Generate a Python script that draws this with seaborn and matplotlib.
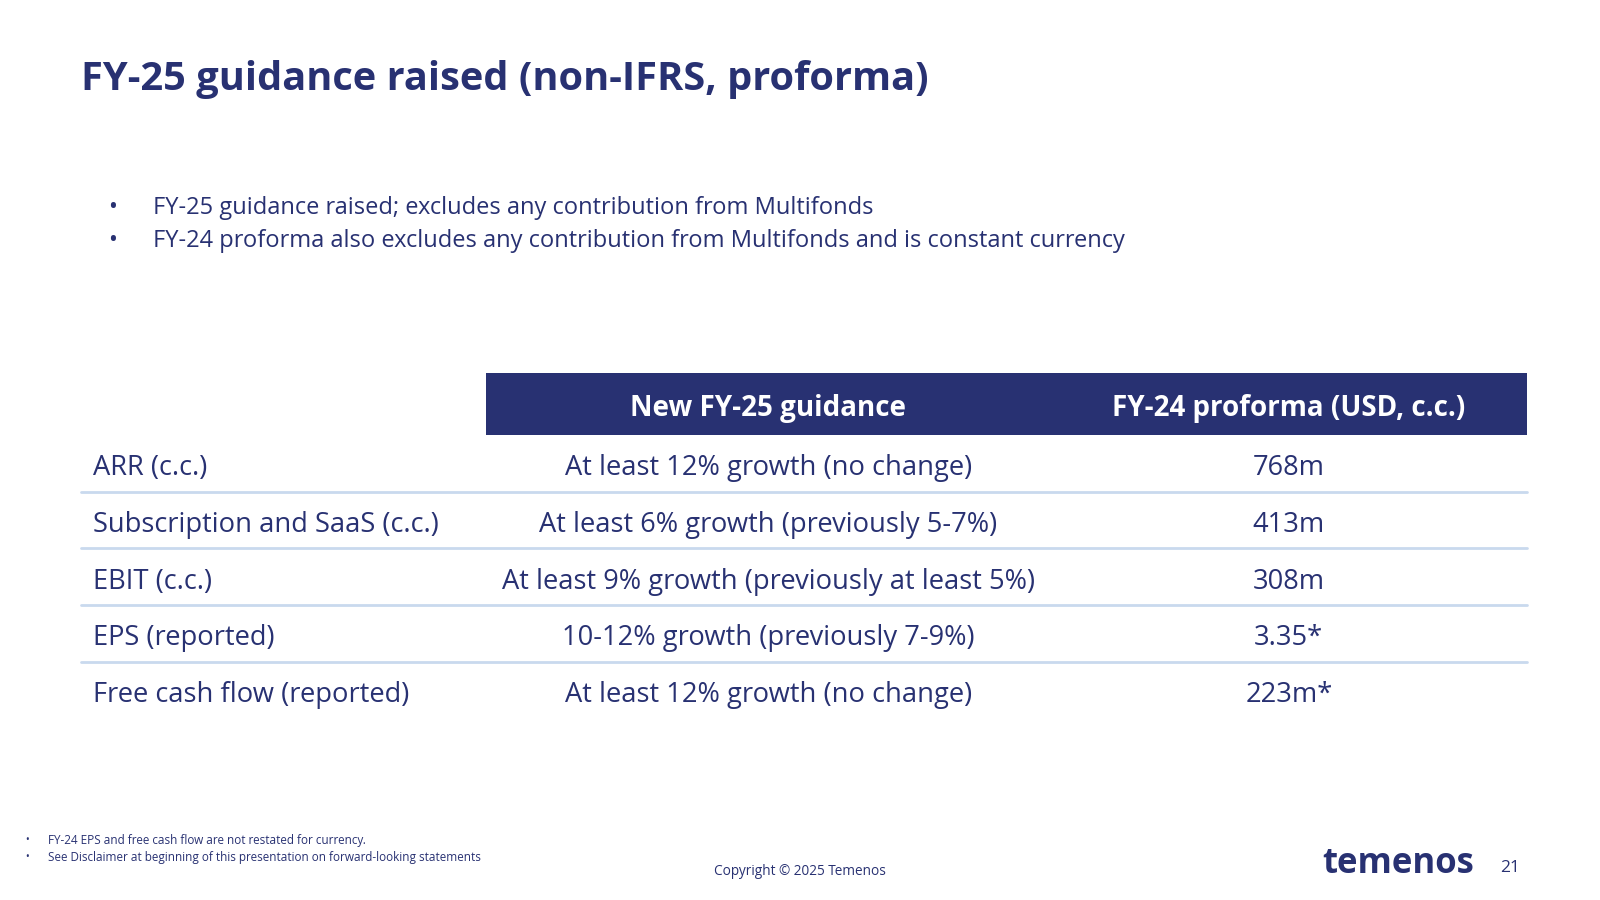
import matplotlib
matplotlib.use("Agg")
import matplotlib.pyplot as plt
import seaborn as sns

sns.set_theme(style="white", font="Open Sans")

title = "FY-25 guidance raised (non-IFRS, proforma)"
bullets = ["FY-25 guidance raised; excludes any contribution from Multifonds",
           "FY-24 proforma also excludes any contribution from Multifonds and is constant currency"]
headers = ["New FY-25 guidance", "FY-24 proforma (USD, c.c.)"]
metrics = ["ARR (c.c.)", "Subscription and SaaS (c.c.)", "EBIT (c.c.)", "EPS (reported)", "Free cash flow (reported)"]
guidance = ["At least 12% growth (no change)", "At least 6% growth (previously 5-7%)",
            "At least 9% growth (previously at least 5%)", "10-12% growth (previously 7-9%)",
            "At least 12% growth (no change)"]
fy24 = ["768m", "413m", "308m", "3.35*", "223m*"]
footnotes = ["FY-24 EPS and free cash flow are not restated for currency.",
             "See Disclaimer at beginning of this presentation on forward-looking statements"]

NAVY = "#283172"
LINE = "#c9d9ee"

fig = plt.figure(figsize=(16, 9), dpi=100)
ax = fig.add_axes([0, 0, 1, 1])
ax.set_xlim(0, 1568)
ax.set_ylim(882, 0)
ax.axis("off")

ax.text(79, 78, title, fontsize=28.6, fontweight="bold", color=NAVY, va="center", ha="left")
for i, b in enumerate(bullets):
    y = 204 + 32 * i
    ax.text(106, y, "•", fontsize=17, color=NAVY, va="center")
    ax.text(150, y, b, fontsize=17, color=NAVY, va="center")

ax.add_patch(plt.Rectangle((476, 366), 1020, 60, color=NAVY, lw=0))
ax.text(753, 400, headers[0], fontsize=20, fontweight="bold", color="white", ha="center", va="center")
ax.text(1263, 400, headers[1], fontsize=20, fontweight="bold", color="white", ha="center", va="center")

for i, (m, g, v) in enumerate(zip(metrics, guidance, fy24)):
    y = 459 + 55.5 * i
    ax.text(91, y, m, fontsize=19.6, color=NAVY, va="center", ha="left")
    ax.text(753, y, g, fontsize=19.6, color=NAVY, va="center", ha="center")
    ax.text(1263, y, v, fontsize=19.6, color=NAVY, va="center", ha="center")
    if i < len(metrics) - 1:
        ax.plot([79, 1496], [y + 23, y + 23], color=LINE, lw=2)

for i, f in enumerate(footnotes):
    y = 824 + 16 * i
    ax.text(25, y, "•", fontsize=7, color=NAVY, va="center")
    ax.text(47, y, f, fontsize=8.5, color=NAVY, va="center")

ax.text(784, 854, "Copyright © 2025 Temenos", fontsize=9.8, color=NAVY, ha="center", va="center")
ax.text(1370, 847, "temenos", fontsize=25, fontweight="bold", color=NAVY, ha="center", va="center")
ax.text(1480, 851, "21", fontsize=12.5, color=NAVY, ha="center", va="center")

fig.savefig("out.png", dpi=100, facecolor="white")
